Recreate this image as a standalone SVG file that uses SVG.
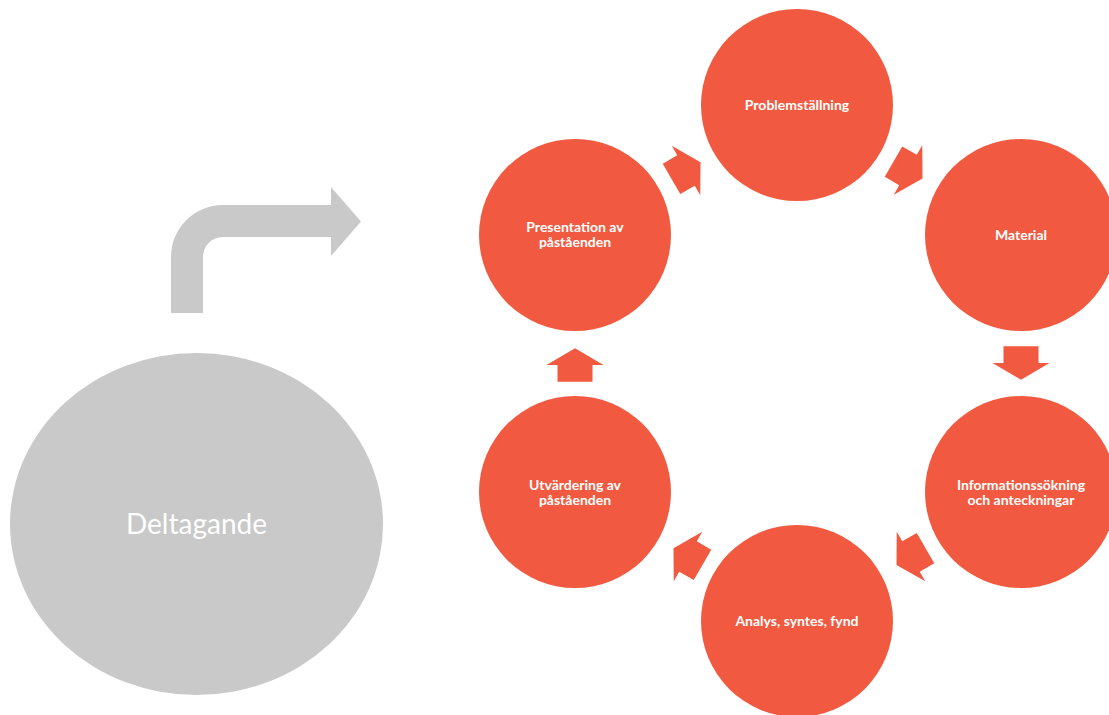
<svg xmlns="http://www.w3.org/2000/svg" width="1109" height="715" viewBox="0 0 1109 715">
  <style>
    .node { fill: #F15A40; }
    .lbl { fill: #FFFFFF; font-family: Lato, "Liberation Sans", sans-serif; font-size: 14px; font-weight: bold; text-anchor: middle; }
    .big { fill: #FFFFFF; font-family: Lato, "Liberation Sans", sans-serif; font-size: 28px; text-anchor: middle; }
    .arr { fill: #F15A40; }
  </style>
  <defs>
    <path id="cycArrow" d="M-16.75,-17.5 L0,-17.5 L0,-28.5 L16.75,0 L0,28.5 L0,17.5 L-16.75,17.5 Z"/>
  </defs>
  <rect width="1109" height="715" fill="#FFFFFF"/>

  <g id="deltagande">
    <ellipse cx="196.5" cy="524" rx="186.5" ry="171" fill="#C8C9C8"/>
    <text class="big" x="196.5" y="534">Deltagande</text>
  </g>

  <g id="bent-arrow">
    <path d="M171,313 L171,257 A52,52 0 0 1 223,205 L331,205 L331,187 L361,221.5 L331,256 L331,237 L223,237 A20,20 0 0 0 203,257 L203,313 Z" fill="#C8C9C8"/>
  </g>

  <g id="connectors" class="arr">
    <use href="#cycArrow" transform="translate(686,170.5) rotate(-30)"/>
    <use href="#cycArrow" transform="translate(908,170) rotate(30)"/>
    <use href="#cycArrow" transform="translate(1021,363) rotate(90)"/>
    <use href="#cycArrow" transform="translate(911,556.5) rotate(150)"/>
    <use href="#cycArrow" transform="translate(688,556.5) rotate(210)"/>
    <use href="#cycArrow" transform="translate(575,365) rotate(270)"/>
  </g>

  <g id="problemstallning">
    <circle class="node" cx="797" cy="105" r="96"/>
    <text class="lbl" x="797" y="110">Problemställning</text>
  </g>
  <g id="material">
    <circle class="node" cx="1021" cy="235" r="96"/>
    <text class="lbl" x="1021" y="240">Material</text>
  </g>
  <g id="informationssokning">
    <circle class="node" cx="1021" cy="492" r="96"/>
    <text class="lbl" x="1021" y="490">Informationssökning</text>
    <text class="lbl" x="1021" y="505">och anteckningar</text>
  </g>
  <g id="analys">
    <circle class="node" cx="797" cy="621" r="96"/>
    <text class="lbl" x="797" y="626">Analys, syntes, fynd</text>
  </g>
  <g id="utvardering">
    <circle class="node" cx="575" cy="492" r="96"/>
    <text class="lbl" x="575" y="490">Utvärdering av</text>
    <text class="lbl" x="575" y="505">påståenden</text>
  </g>
  <g id="presentation">
    <circle class="node" cx="575" cy="235" r="96"/>
    <text class="lbl" x="575" y="232">Presentation av</text>
    <text class="lbl" x="575" y="247">påståenden</text>
  </g>
</svg>
